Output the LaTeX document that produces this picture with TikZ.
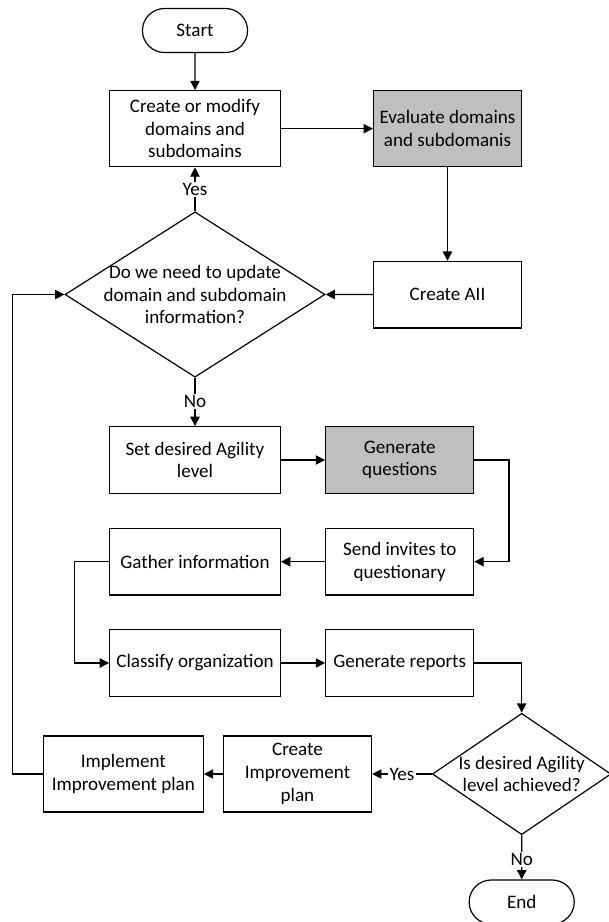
\documentclass[tikz,border=0pt]{standalone}
\usepackage{fontspec}
\setmainfont{Carlito}
\usetikzlibrary{arrows.meta,shapes.geometric,shapes.misc}

\begin{document}
\begin{tikzpicture}[x=0.75pt, y=-0.75pt,
    every node/.style={font=\fontsize{14.3}{17}\selectfont},
    bx/.style={rectangle, draw, line width=0.9pt, align=center, inner sep=2pt},
    gbx/.style={bx, fill=black!25},
    tm/.style={rounded rectangle, draw, line width=0.9pt, minimum width=85.5pt, minimum height=33pt},
    dc/.style={diamond, draw, line width=0.9pt, inner sep=0pt},
    txt/.style={align=center, inner sep=0pt},
    e/.style={line width=0.9pt, -{Triangle[length=7pt, width=7pt]}},
    lbl/.style={fill=white, inner sep=1pt},
  ]
  \useasboundingbox (0,0) rectangle (609,922);
  \node[tm] (start) at (195.0, 30.5) {Start};
  \node[bx, minimum width=128pt, minimum height=57pt] (modify) at (195.0, 128.7) {Create or modify\\domains and\\subdomains};
  \node[gbx, minimum width=111pt, minimum height=57pt] (eval) at (447.5, 128.7) {Evaluate domains\\and subdomanis};
  \node[bx, minimum width=111pt, minimum height=50pt] (aii) at (447.5, 294.7) {Create AII};
  \node[dc, minimum width=195pt, minimum height=124pt] (upd) at (195.0, 294.5) {};
  \node[txt] (updtxt) at (195.0, 294.5) {Do we need to update\\domain and subdomain\\information?};
  \node[bx, minimum width=128pt, minimum height=50pt] (level) at (195.0, 460.0) {Set desired Agility\\level};
  \node[gbx, minimum width=111pt, minimum height=50pt] (genq) at (399.7, 460.0) {Generate\\questions};
  \node[bx, minimum width=111pt, minimum height=50pt] (invite) at (399.7, 561.7) {Send invites to\\questionary};
  \node[bx, minimum width=128pt, minimum height=50pt] (gather) at (195.0, 561.7) {Gather information};
  \node[bx, minimum width=128pt, minimum height=50pt] (classify) at (195.0, 663.0) {Classify organization};
  \node[bx, minimum width=111pt, minimum height=50pt] (reports) at (399.7, 663.0) {Generate reports};
  \node[dc, minimum width=134pt, minimum height=91pt] (ach) at (521.7, 774.0) {};
  \node[txt] (achtxt) at (521.7, 774.0) {Is desired Agility\\level achieved?};
  \node[bx, minimum width=111pt, minimum height=57pt] (plan) at (297.5, 774.0) {Create\\Improvement\\plan};
  \node[bx, minimum width=120pt, minimum height=57pt] (impl) at (123.3, 774.0) {Implement\\Improvement plan};
  \node[tm] (end) at (521.7, 902.0) {End};
  \draw[e] (start) -- (modify);
  \draw[e] (modify) -- (eval);
  \draw[e] (eval) -- (aii);
  \draw[e] (aii) -- (upd.east);
  \draw[e] (upd.north) -- node[lbl] {Yes} (modify);
  \draw[e] (upd.south) -- node[lbl] {No} (level);
  \draw[e] (level) -- (genq);
  \draw[e] (genq.east) -- ++(34.6, 0) |- (invite.east);
  \draw[e] (invite) -- (gather);
  \draw[e] (gather.west) -- ++(-34.3, 0) |- (classify.west);
  \draw[e] (classify) -- (reports);
  \draw[e] (reports.east) -| (ach.north);
  \draw[e] (ach.west) -- node[lbl] {Yes} (plan);
  \draw[e] (plan) -- (impl);
  \draw[e] (impl.west) -- ++(-30, 0) |- (upd.west);
  \draw[e] (ach.south) -- node[lbl, pos=0.55] {No} (end);
\end{tikzpicture}
\end{document}
